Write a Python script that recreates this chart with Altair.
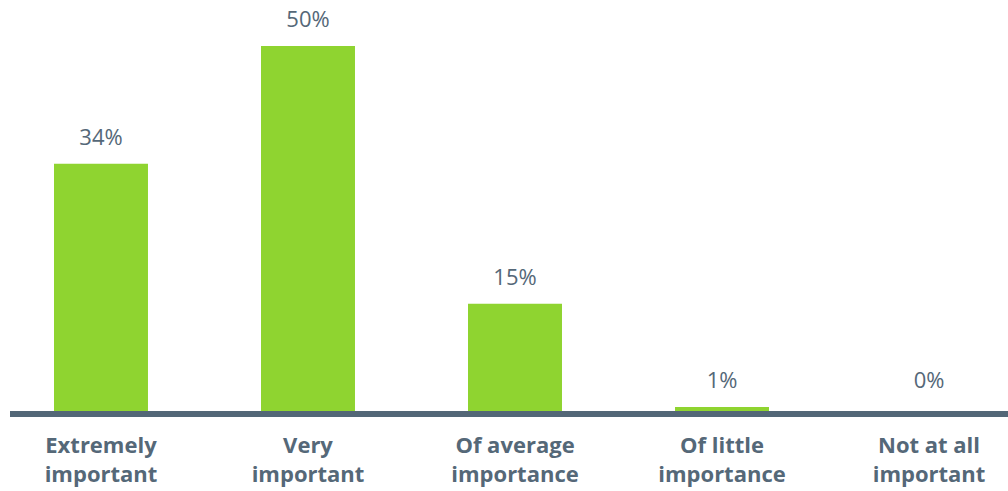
import altair as alt
import pandas as pd

categories = ["Extremely\nimportant", "Very\nimportant", "Of average\nimportance", "Of little\nimportance", "Not at all\nimportant"]
values = [34, 50, 15, 1, 0]
labels = ["34%", "50%", "15%", "1%", "0%"]

df = pd.DataFrame({"cat": categories, "value": values, "label": labels})

GREEN = "#8FD430"
TEXT = "#556878"
BASE = "#536777"

x = alt.X("cat:N", sort=categories, axis=None,
          scale=alt.Scale(range=[54, 976], paddingInner=0.546, paddingOuter=0))
yscale = alt.Scale(domain=[0, 56.23], nice=False, range=[414.4, 0])
y = alt.Y("value:Q", axis=None, scale=yscale)

bars = alt.Chart(df).mark_bar(color=GREEN).encode(x=x, y=y)

vals = alt.Chart(df).transform_calculate(
    pos="max(datum.value, 1)"
).mark_text(
    font="Open Sans", fontSize=22, fontWeight=400, color=TEXT,
    baseline="alphabetic", dy=-19
).encode(x=x, y=alt.Y("pos:Q", axis=None, scale=yscale), text="label:N")

base = alt.Chart(df).mark_rule(color=BASE, strokeWidth=6).encode(
    x=alt.value(10), x2=alt.value(1008), y=alt.value(414)
)

cats = alt.Chart(df).mark_text(
    font="Open Sans", fontSize=22, fontWeight="bold", color=TEXT,
    baseline="alphabetic", lineBreak="\n", lineHeight=29
).encode(x=x, y=alt.value(453), text="cat:N")

chart = alt.layer(bars, base, vals, cats).properties(
    width=1008, height=491,
    padding=0,
    autosize=alt.AutoSizeParams(type="none"),
).configure_view(stroke=None)

chart.save("out.html", embed_options={"renderer": "svg", "actions": False})
